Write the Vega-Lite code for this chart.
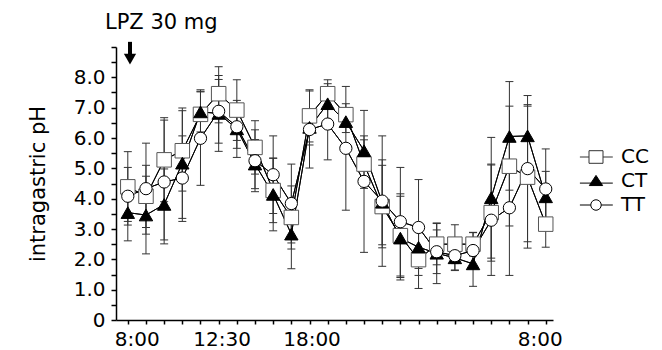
{
"$schema": "https://vega.github.io/schema/vega-lite/v6.json",
"width": 437, "height": 273,
"autosize": "none",
"padding": {"left": 116, "top": 47, "right": 109, "bottom": 30},
"title": {"text": "LPZ 30 mg", "anchor": "start", "frame": "group", "dx": -11, "dy": 29, "offset": 16, "baseline": "alphabetic", "fontSize": 21, "fontWeight": "normal", "font": "DejaVu Sans", "color": "black"},
"config": {"font": "DejaVu Sans", "view": {"stroke": null}, "axis": {"domainColor": "black", "tickColor": "black", "labelColor": "black", "titleColor": "black", "grid": false}},
"data": {"values": [
{"t":0,"g":"CC","y":4.39,"lo":3.25,"hi":5.55},
{"t":1,"g":"CC","y":4.08,"lo":3.05,"hi":5.1},
{"t":2,"g":"CC","y":5.28,"lo":3.9,"hi":6.67},
{"t":3,"g":"CC","y":5.58,"lo":4.25,"hi":6.9},
{"t":4,"g":"CC","y":6.78,"lo":6.0,"hi":7.59},
{"t":5,"g":"CC","y":7.46,"lo":6.5,"hi":8.35},
{"t":6,"g":"CC","y":6.92,"lo":5.92,"hi":7.92},
{"t":7,"g":"CC","y":5.69,"lo":4.81,"hi":6.57},
{"t":8,"g":"CC","y":4.27,"lo":3.21,"hi":5.33},
{"t":9,"g":"CC","y":3.38,"lo":2.34,"hi":4.42},
{"t":10,"g":"CC","y":6.73,"lo":5.87,"hi":7.59},
{"t":11,"g":"CC","y":7.46,"lo":7.0,"hi":7.92},
{"t":12,"g":"CC","y":6.77,"lo":6.4,"hi":7.13},
{"t":13,"g":"CC","y":5.14,"lo":4.34,"hi":5.94},
{"t":14,"g":"CC","y":3.74,"lo":2.38,"hi":5.1},
{"t":15,"g":"CC","y":2.78,"lo":1.4,"hi":4.16},
{"t":16,"g":"CC","y":1.99,"lo":1.04,"hi":2.94},
{"t":17,"g":"CC","y":2.5,"lo":1.82,"hi":3.18},
{"t":18,"g":"CC","y":2.5,"lo":1.86,"hi":3.14},
{"t":19,"g":"CC","y":2.5,"lo":2.11,"hi":2.89},
{"t":20,"g":"CC","y":3.54,"lo":1.94,"hi":5.14},
{"t":21,"g":"CC","y":5.07,"lo":3.1,"hi":7.05},
{"t":22,"g":"CC","y":4.71,"lo":2.37,"hi":7.05},
{"t":23,"g":"CC","y":3.16,"lo":2.4,"hi":3.92},
{"t":0,"g":"CT","y":3.54,"lo":2.61,"hi":4.47},
{"t":1,"g":"CT","y":3.46,"lo":2.18,"hi":4.74},
{"t":2,"g":"CT","y":3.81,"lo":2.64,"hi":4.98},
{"t":3,"g":"CT","y":5.17,"lo":3.35,"hi":6.99},
{"t":4,"g":"CT","y":6.86,"lo":6.2,"hi":7.52},
{"t":5,"g":"CT","y":6.81,"lo":5.56,"hi":8.06},
{"t":6,"g":"CT","y":6.3,"lo":5.36,"hi":7.24},
{"t":7,"g":"CT","y":5.14,"lo":4.33,"hi":5.95},
{"t":8,"g":"CT","y":4.14,"lo":2.94,"hi":5.34},
{"t":9,"g":"CT","y":2.83,"lo":1.69,"hi":3.97},
{"t":10,"g":"CT","y":6.35,"lo":5.77,"hi":6.93},
{"t":11,"g":"CT","y":7.13,"lo":6.47,"hi":7.79},
{"t":12,"g":"CT","y":6.54,"lo":6.18,"hi":6.9},
{"t":13,"g":"CT","y":5.58,"lo":5.09,"hi":6.07},
{"t":14,"g":"CT","y":3.88,"lo":2.48,"hi":5.28},
{"t":15,"g":"CT","y":2.7,"lo":1.32,"hi":4.08},
{"t":16,"g":"CT","y":2.4,"lo":1.7,"hi":3.1},
{"t":17,"g":"CT","y":2.2,"lo":1.2,"hi":3.2},
{"t":18,"g":"CT","y":2.05,"lo":1.65,"hi":2.45},
{"t":19,"g":"CT","y":1.85,"lo":1.11,"hi":2.59},
{"t":20,"g":"CT","y":4.03,"lo":2.04,"hi":6.02},
{"t":21,"g":"CT","y":6.05,"lo":4.28,"hi":7.86},
{"t":22,"g":"CT","y":6.07,"lo":5.04,"hi":7.1},
{"t":23,"g":"CT","y":4.06,"lo":3.22,"hi":4.9},
{"t":0,"g":"TT","y":4.08,"lo":3.13,"hi":5.03},
{"t":1,"g":"TT","y":4.33,"lo":2.83,"hi":5.83},
{"t":2,"g":"TT","y":4.55,"lo":2.51,"hi":6.59},
{"t":3,"g":"TT","y":4.68,"lo":3.25,"hi":6.07},
{"t":4,"g":"TT","y":5.99,"lo":4.44,"hi":7.54},
{"t":5,"g":"TT","y":6.88,"lo":5.83,"hi":7.93},
{"t":6,"g":"TT","y":6.37,"lo":5.66,"hi":7.08},
{"t":7,"g":"TT","y":5.25,"lo":4.23,"hi":6.27},
{"t":8,"g":"TT","y":4.79,"lo":3.51,"hi":6.07},
{"t":9,"g":"TT","y":3.84,"lo":2.54,"hi":5.14},
{"t":10,"g":"TT","y":6.28,"lo":5.01,"hi":7.55},
{"t":11,"g":"TT","y":6.46,"lo":5.28,"hi":7.64},
{"t":12,"g":"TT","y":5.66,"lo":3.62,"hi":7.7},
{"t":13,"g":"TT","y":4.57,"lo":2.23,"hi":6.91},
{"t":14,"g":"TT","y":3.92,"lo":1.77,"hi":6.07},
{"t":15,"g":"TT","y":3.24,"lo":1.45,"hi":5.03},
{"t":16,"g":"TT","y":3.05,"lo":1.47,"hi":4.63},
{"t":17,"g":"TT","y":2.25,"lo":1.53,"hi":2.97},
{"t":18,"g":"TT","y":2.12,"lo":1.63,"hi":2.61},
{"t":19,"g":"TT","y":2.29,"lo":1.7,"hi":2.88},
{"t":20,"g":"TT","y":3.29,"lo":1.47,"hi":5.11},
{"t":21,"g":"TT","y":3.7,"lo":1.47,"hi":5.93},
{"t":22,"g":"TT","y":4.99,"lo":2.58,"hi":7.4},
{"t":23,"g":"TT","y":4.32,"lo":3.0,"hi":5.64}
]},
"layer": [
{"mark": {"type": "line", "color": "black", "strokeWidth": 1},
 "encoding": {
  "x": {"field": "t", "type": "quantitative", "scale": {"domain": [-0.65, 23.4], "nice": false, "zero": false},
   "axis": {"orient": "bottom", "values": [0,1,2,3,4,5,6,7,8,9,10,11,12,13,14,15,16,17,18,19,20,21,22,23], "title": null, "tickSize": 4, "tickWidth": 1.5, "domainWidth": 1.5, "labelFontSize": 20, "labelPadding": 5, "labelOverlap": false, "labelFlush": false, "labelBound": false,
    "labelExpr": "datum.value==0?'8:00':datum.value==5?'12:30':datum.value==10?'18:00':datum.value==23?'8:00':''",
    "labelOffset": {"condition": [{"test": "datum.value==0", "value": 9}, {"test": "datum.value==5", "value": 3}, {"test": "datum.value==10", "value": 2}, {"test": "datum.value==23", "value": -6}], "value": 0}}},
  "y": {"field": "y", "type": "quantitative", "scale": {"domain": [0, 9], "nice": false},
   "axis": {"orient": "left", "values": [0,0.5,1,1.5,2,2.5,3,3.5,4,4.5,5,5.5,6,6.5,7,7.5,8,8.5,9], "title": "intragastric pH", "titleFontSize": 21, "titleFontWeight": "normal", "titlePadding": 25, "tickSize": 5, "tickWidth": 1.5, "domainWidth": 1.5, "labelFontSize": 20, "labelPadding": 6, "labelOverlap": false, "labelFlush": false,
    "labelExpr": "datum.value>8||datum.value%1!=0?'':datum.value==0?'0':format(datum.value,'.1f')"}},
  "detail": {"field": "g"}
 }},
{"mark": {"type": "rule", "color": "#333", "strokeWidth": 1},
 "encoding": {
  "x": {"field": "t", "type": "quantitative", "axis": null},
  "y": {"field": "lo", "type": "quantitative", "axis": null},
  "y2": {"field": "hi"}
 }},
{"mark": {"type": "tick", "orient": "horizontal", "color": "#333", "size": 8, "thickness": 1, "opacity": 1},
 "encoding": {
  "x": {"field": "t", "type": "quantitative", "axis": null},
  "y": {"field": "lo", "type": "quantitative", "axis": null}
 }},
{"mark": {"type": "tick", "orient": "horizontal", "color": "#333", "size": 8, "thickness": 1, "opacity": 1},
 "encoding": {
  "x": {"field": "t", "type": "quantitative", "axis": null},
  "y": {"field": "hi", "type": "quantitative", "axis": null}
 }},
{"mark": {"type": "line", "color": "black", "strokeWidth": 1},
 "encoding": {
  "x": {"field": "t", "type": "quantitative", "axis": null},
  "y": {"field": "y", "type": "quantitative", "axis": null},
  "detail": {"field": "g"}
 }},
{"mark": {"type": "point", "filled": true, "opacity": 1, "strokeWidth": 1},
 "encoding": {
  "x": {"field": "t", "type": "quantitative", "axis": null},
  "y": {"field": "y", "type": "quantitative", "axis": null},
  "shape": {"field": "g", "type": "nominal", "scale": {"domain": ["CC","CT","TT"], "range": ["square","triangle-up","circle"]}, "legend": null},
  "fill": {"field": "g", "type": "nominal", "scale": {"domain": ["CC","CT","TT"], "range": ["white","black","white"]}, "legend": null},
  "stroke": {"field": "g", "type": "nominal", "scale": {"domain": ["CC","CT","TT"], "range": ["#555","black","black"]}, "legend": null},
  "size": {"field": "g", "type": "nominal", "scale": {"domain": ["CC","CT","TT"], "range": [210, 150, 140]}, "legend": null}
 }},
{"transform": [{"filter": "false"}],
 "mark": {"type": "point", "filled": true, "opacity": 1, "strokeWidth": 1},
 "encoding": {
  "x": {"field": "t", "type": "quantitative", "axis": null},
  "y": {"field": "y", "type": "quantitative", "axis": null},
  "shape": {"field": "g", "type": "nominal", "scale": {"domain": ["CC","CT","TT"], "range": ["M-2.3,0H-1M1,0H2.4M-1,-0.9H1V0.9H-1Z", "M-2.3,0.3H2.4M0,-0.8L0.95,0.65H-0.95Z", "M-2.3,0H-0.75M0.75,0H2.4M-0.75,0A0.75,0.75,0,1,0,0.75,0A0.75,0.75,0,1,0,-0.75,0Z"]},
   "legend": {"title": null, "orient": "none", "legendX": 470, "legendY": 100, "symbolSize": 196, "symbolStrokeWidth": 1, "symbolOpacity": 1, "labelFontSize": 20, "labelOffset": 15, "labelColor": "black", "rowPadding": 4, "padding": 0}},
  "fill": {"field": "g", "type": "nominal", "scale": {"domain": ["CC","CT","TT"], "range": ["white","black","white"]},
   "legend": {"title": null, "orient": "none", "legendX": 470, "legendY": 100, "symbolSize": 196, "symbolStrokeWidth": 1, "symbolOpacity": 1, "labelFontSize": 20, "labelOffset": 15, "labelColor": "black", "rowPadding": 4, "padding": 0}},
  "stroke": {"field": "g", "type": "nominal", "scale": {"domain": ["CC","CT","TT"], "range": ["#333","black","black"]},
   "legend": {"title": null, "orient": "none", "legendX": 470, "legendY": 100, "symbolSize": 196, "symbolStrokeWidth": 1, "symbolOpacity": 1, "labelFontSize": 20, "labelOffset": 15, "labelColor": "black", "rowPadding": 4, "padding": 0}}
 }},
{"data": {"values": [{"t": 0.12, "a": 9.17, "b": 8.75, "c": 8.6}]},
 "layer": [
  {"mark": {"type": "rule", "color": "black", "strokeWidth": 4},
   "encoding": {"x": {"field": "t", "type": "quantitative", "axis": null}, "y": {"field": "a", "type": "quantitative", "axis": null}, "y2": {"field": "b"}}},
  {"mark": {"type": "point", "shape": "triangle-down", "filled": true, "color": "black", "opacity": 1, "size": 150},
   "encoding": {"x": {"field": "t", "type": "quantitative", "axis": null}, "y": {"field": "c", "type": "quantitative", "axis": null}}}
 ]}
],
"resolve": {"scale": {"shape": "independent", "fill": "independent", "stroke": "independent", "size": "independent"}, "legend": {"shape": "independent", "fill": "independent", "stroke": "independent"}, "axis": {"x": "independent", "y": "independent"}}
}
